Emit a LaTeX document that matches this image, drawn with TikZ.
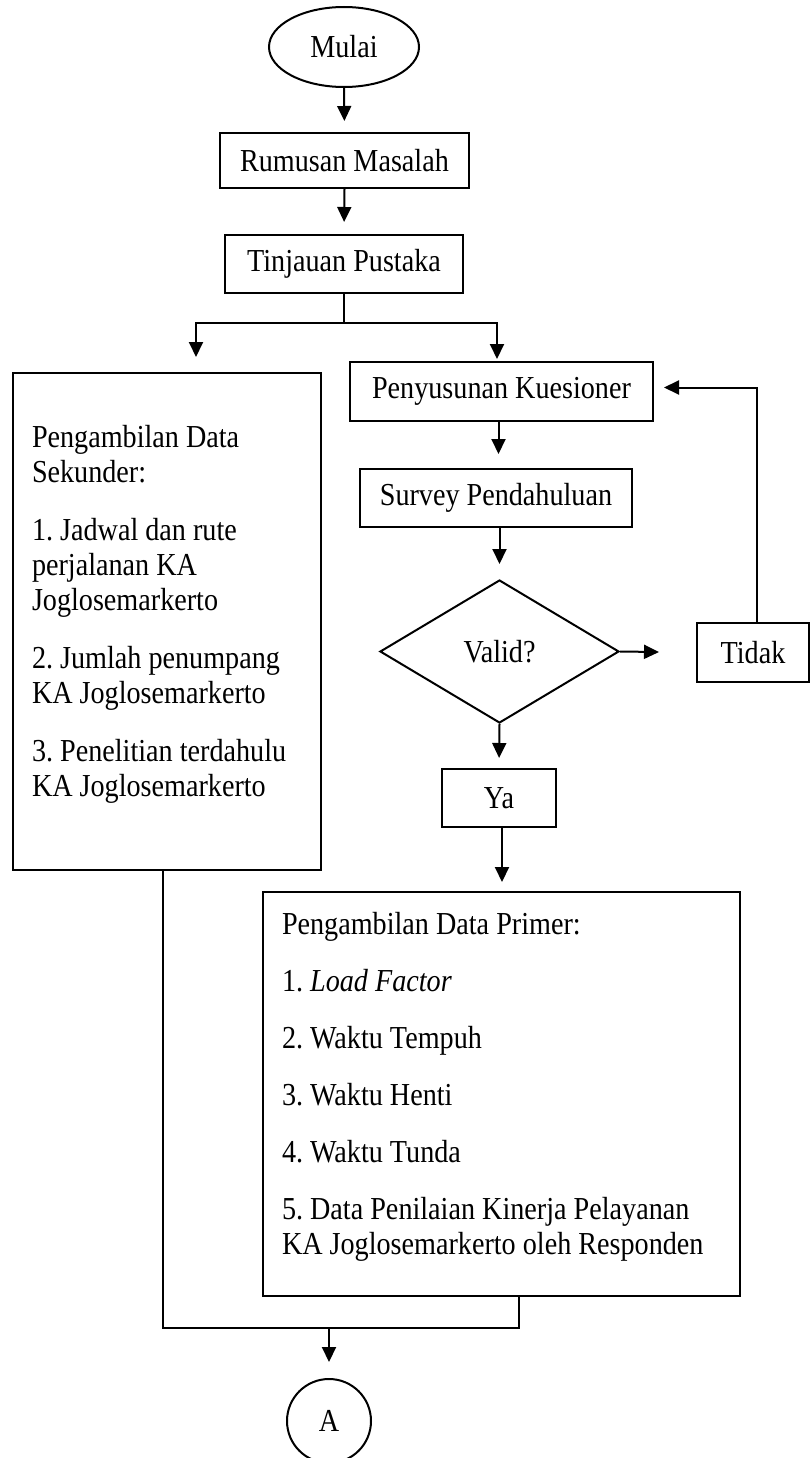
\documentclass[tikz,border=0pt]{standalone}
\usepackage{fontspec}
\setmainfont{Liberation Serif}[FakeStretch=0.88]
\usetikzlibrary{shapes.geometric}
\usetikzlibrary{arrows.meta}

\begin{document}
\frenchspacing
\begin{tikzpicture}[x=1pt, y=-1pt, font=\fontsize{32}{35}\selectfont,
        kotak/.style={draw, line width=2pt, inner sep=0pt, align=center},
        garis/.style={line width=2pt},
        panah/.style={line width=2pt, -{Triangle[length=15pt,width=14pt]}}]
            \useasboundingbox (0,0) rectangle (811,1458);
            \node[kotak, ellipse, minimum width=150, minimum height=80] (mulai) at (344,47) {Mulai};
            \node[kotak, minimum width=249, minimum height=55] (rumusan) at (344.5,160.5) {Rumusan Masalah};
            \node[kotak, minimum width=238, minimum height=58] (tinjauan) at (344,264) {Tinjauan Pustaka};
            \node[kotak, minimum width=308, minimum height=497, text width=270, align=flush left] (sekunder) at (167,621.5)
                {Pengambilan Data\\ Sekunder:\\[23pt] 1. Jadwal dan rute\\ perjalanan KA\\ Joglosemarkerto\\[23pt]
                 2. Jumlah penumpang\\ KA Joglosemarkerto\\[23pt] 3. Penelitian terdahulu\\ KA Joglosemarkerto\rule[-21pt]{0pt}{21pt}};
            \node[kotak, minimum width=303, minimum height=59] (penyusunan) at (501.5,391.5) {Penyusunan Kuesioner};
            \node[kotak, minimum width=272, minimum height=58] (survey) at (496,498) {Survey Pendahuluan};
            \node[kotak, diamond, minimum width=239, minimum height=143] (valid) at (499.5,651.5) {Valid?};
            \node[kotak, minimum width=112, minimum height=59] (tidak) at (753,652.5) {Tidak};
            \node[kotak, minimum width=114, minimum height=58] (ya) at (499,798) {Ya};
            \node[kotak, minimum width=477, minimum height=404, text width=439, align=flush left] (primer) at (501.5,1094)
                {Pengambilan Data Primer:\\[22pt] 1. \textit{Load Factor}\\[22pt] 2. Waktu Tempuh\\[22pt]
                 3. Waktu Henti\\[22pt] 4. Waktu Tunda\\[22pt] 5. Data Penilaian Kinerja Pelayanan\\
                 KA Joglosemarkerto oleh Responden\rule[-21pt]{0pt}{21pt}};
            \node[kotak, circle, minimum size=84] (a) at (329,1421) {A};
            \coordinate (cabang) at (344,323);
            \coordinate (ujungkiri) at (196,357);
            \coordinate (ujungkanan) at (497,359);
            \coordinate (gabung) at (329,1328);
            \draw[panah, shorten >=11] (mulai.south) -- (rumusan.north);
            \draw[panah, shorten >=12] (rumusan.south) -- (tinjauan.north);
            \draw[garis] (tinjauan.south) -- (cabang);
            \draw[panah] (cabang) -| (ujungkiri);
            \draw[panah] (cabang) -| (ujungkanan);
            \draw[panah, shorten >=14] ([xshift=-3]penyusunan.south) -- ([xshift=-3]penyusunan.south |- survey.north);
            \draw[panah, shorten >=15] (valid.north |- survey.south) -- (valid.north);
            \draw[panah, shorten >=37] (valid.east) -- (tidak.west);
            \draw[panah, shorten >=10] ([xshift=4]tidak.north) |- ([yshift=4]penyusunan.east);
            \draw[panah, shorten >=10] (valid.south) -- (ya.north);
            \draw[panah, shorten >=9] ([xshift=3]ya.south) -- ([xshift=3]ya.south |- primer.north);
            \draw[garis] ([xshift=-4]sekunder.south) |- (gabung) -| ([xshift=17.5]primer.south);
            \draw[panah, shorten >=16] (gabung) -- (a.north);
\end{tikzpicture}
\end{document}
